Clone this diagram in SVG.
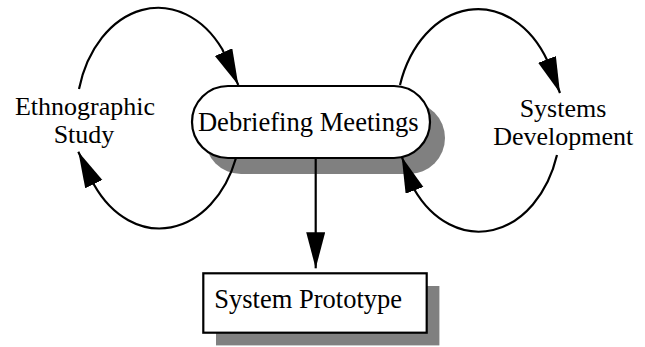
<svg xmlns="http://www.w3.org/2000/svg" width="645" height="347" viewBox="0 0 645 347">
<style>
.lbl{font-family:"Liberation Serif","Times New Roman",serif;fill:#000}
.box{fill:#fff;stroke:#000;stroke-width:2.2}
.shadow{fill:#808080;stroke:none}
.conn{fill:none;stroke:#000;stroke-width:2.2;marker-end:url(#ah)}
</style>
<defs>
<marker id="ah" markerUnits="userSpaceOnUse" markerWidth="40" markerHeight="22" refX="36" refY="9.5" orient="auto" viewBox="0 0 40 22">
<path d="M0,0 L36,9.5 L0,19 z" fill="#000"/>
</marker>
</defs>
<rect width="645" height="347" fill="#fff"/>
<g id="node-debriefing">
<rect class="shadow" x="205" y="102" width="240" height="72" rx="36" ry="36"/>
<rect class="box" x="192" y="86" width="238" height="72" rx="36" ry="36"/>
<text class="lbl" x="308.3" y="130.7" font-size="26.6" text-anchor="middle">Debriefing Meetings</text>
</g>
<g id="node-ethnographic">
<text class="lbl" x="85" y="115" font-size="26" text-anchor="middle">Ethnographic</text>
<text class="lbl" x="84" y="143.3" font-size="26" text-anchor="middle">Study</text>
</g>
<g id="node-systems">
<text class="lbl" x="563" y="116.7" font-size="26" text-anchor="middle">Systems</text>
<text class="lbl" x="563.3" y="145" font-size="26" text-anchor="middle">Development</text>
</g>
<g id="node-prototype">
<rect class="shadow" x="216" y="286" width="223.4" height="59.4"/>
<rect class="box" x="203.3" y="273.3" width="223.4" height="59.4"/>
<text class="lbl" x="214.3" y="308.3" font-size="26.5">System Prototype</text>
</g>
<g id="connectors">
<path class="conn" d="M79,89 A82,110 0 0 1 222.3,49.3 L238.3,85"/>
<path class="conn" d="M236,158 A82,110 0 0 1 94.2,185 L78.3,151.7"/>
<path class="conn" d="M400,85 A82,110 0 0 1 547.8,61.5 L560,93"/>
<path class="conn" d="M557,155 A82,110 0 0 1 414,189 L401.7,156.7"/>
<path class="conn" d="M315.7,158 L315.7,268.3"/>
</g>
</svg>
